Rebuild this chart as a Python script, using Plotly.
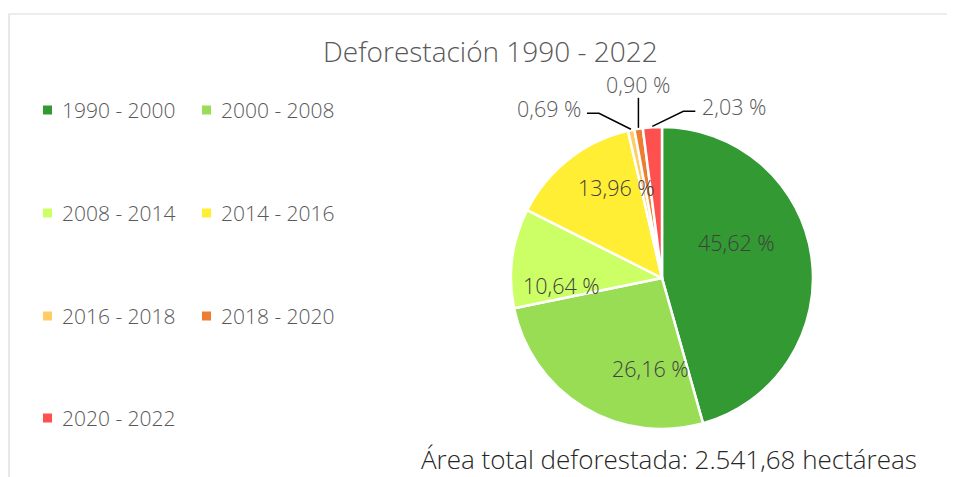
import math
import plotly.graph_objects as go

# ---------------- data ----------------
periods = ["1990 - 2000", "2000 - 2008", "2008 - 2014", "2014 - 2016",
           "2016 - 2018", "2018 - 2020", "2020 - 2022"]
shares = [45.62, 26.16, 10.64, 13.96, 0.69, 0.90, 2.03]
colors = ["#339933", "#99DD55", "#CCFF66", "#FFEE33", "#FFCC66", "#ED7D31", "#FF5050"]
title_text = "Deforestación 1990 - 2022"
total_text = "Área total deforestada: 2.541,68 hectáreas"

# ---------------- layout constants ----------------
VW, VH = 955, 477                  # browser window
OFF = 8                            # default page body margin
W, H = VW - OFF, VH - OFF          # figure size
CX, CY, R = 662, 278, 151          # pie centre / radius in window px
FONT = "Open Sans"
GREY = "#595959"


def px(x):
    return (x - OFF) / W


def py(y):
    return 1 - (y - OFF) / H


def fmt(v):
    return f"{v:.2f}".replace(".", ",") + " %"


texts = [fmt(v) for v in shares]

fig = go.Figure(go.Pie(
    labels=periods, values=shares, sort=False, direction="clockwise", rotation=0,
    marker=dict(colors=colors, line=dict(color="white", width=2.5)),
    text=texts, textinfo="none",
    domain=dict(x=[px(CX - R), px(CX + R)], y=[py(CY + R), py(CY - R)]),
    showlegend=False, hoverinfo="label+text",
))

shapes = []
annotations = []

# inside labels: position relative to slice mid-angle (angle shift deg, radius px)
inside_style = {
    0: dict(shift=-17.4, rad=82),
    1: dict(shift=-24.3, rad=91),
    2: dict(shift=-12.1, rad=101),
    3: dict(shift=11.6, rad=101),
}
# outside labels with leader lines for the small slices
leader_style = {
    4: dict(dx=-32, dy=-16, tail=-12, side="left"),
    5: dict(dx=0, dy=-30, tail=0, side="top"),
    6: dict(dx=31, dy=-15, tail=12, side="right"),
}
total = sum(shares)
cum = 0.0
for i, v in enumerate(shares):
    mid = (cum + v / 2) / total * 2 * math.pi
    cum += v
    if i in inside_style:
        st = inside_style[i]
        a = mid + math.radians(st["shift"])
        lx = CX + st["rad"] * math.sin(a)
        ly = CY - st["rad"] * math.cos(a)
        annotations.append(dict(x=px(lx), y=py(ly), xref="paper", yref="paper",
                                text=texts[i], showarrow=False, xanchor="center",
                                yanchor="middle",
                                font=dict(family=FONT, size=21.5, color="#404040", weight=300)))
        continue
    st = leader_style[i]
    ex = CX + (R + 1) * math.sin(mid)
    ey = CY - (R + 1) * math.cos(mid)
    bx, by = ex + st["dx"], ey + st["dy"]
    tx = bx + st["tail"]
    path = f"M {px(ex)},{py(ey)} L {px(bx)},{py(by)} L {px(tx)},{py(by)}"
    shapes.append(dict(type="path", path=path, xref="paper", yref="paper",
                       line=dict(color="black", width=1.5)))
    if st["side"] == "left":
        ax, ay, xa = tx - 4, by - 5, "right"
    elif st["side"] == "right":
        ax, ay, xa = tx + 5, by - 5, "left"
    else:
        ax, ay, xa = tx, by - 13, "center"
    annotations.append(dict(x=px(ax), y=py(ay), xref="paper", yref="paper",
                            text=texts[i], showarrow=False, xanchor=xa, yanchor="middle",
                            font=dict(family=FONT, size=21.5, color=GREY, weight=300)))

# manual legend: two columns, four rows
leg_cols = [43, 202]
leg_rows = [110, 213, 316, 418]
for i, (lab, col) in enumerate(zip(periods, colors)):
    x0 = leg_cols[i % 2]
    yc = leg_rows[i // 2]
    shapes.append(dict(type="rect", xref="paper", yref="paper",
                       x0=px(x0), x1=px(x0 + 9), y0=py(yc + 4.5), y1=py(yc - 4.5),
                       fillcolor=col, line=dict(width=0)))
    annotations.append(dict(x=px(x0 + 17), y=py(yc), xref="paper", yref="paper",
                            text=lab, showarrow=False, xanchor="left", yanchor="middle",
                            font=dict(family=FONT, size=21, color=GREY, weight=300)))

# title and total text
annotations.append(dict(x=px(490), y=py(51), xref="paper", yref="paper", text=title_text,
                        showarrow=False, xanchor="center", yanchor="middle",
                        font=dict(family=FONT, size=28, color=GREY, weight=300)))
annotations.append(dict(x=px(669), y=py(459), xref="paper", yref="paper", text=total_text,
                        showarrow=False, xanchor="center", yanchor="middle",
                        font=dict(family=FONT, size=26, color="#262626", weight=300)))

# chart border
shapes.append(dict(type="rect", xref="paper", yref="paper",
                   x0=px(9), x1=px(954), y0=py(495), y1=py(14),
                   line=dict(color="#D9D9D9", width=1.2), fillcolor="rgba(0,0,0,0)"))

fig.update_layout(
    width=W, height=H, margin=dict(l=0, r=0, t=0, b=0),
    paper_bgcolor="white", plot_bgcolor="white",
    shapes=shapes, annotations=annotations,
    font=dict(family=FONT, color=GREY),
)
fig.write_html("out.html")
